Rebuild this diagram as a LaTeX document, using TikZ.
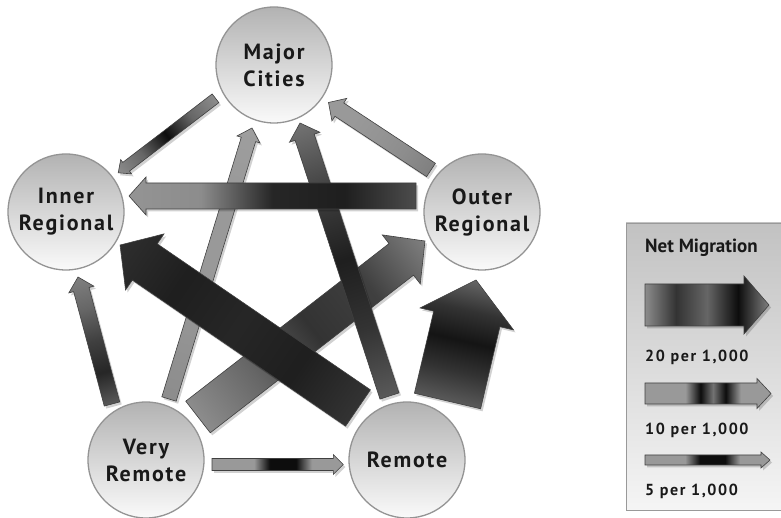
\documentclass[tikz,border=0pt]{standalone}
\usepackage{fontspec}
\setmainfont{PT Sans}
\newfontfamily\placefont[LetterSpace=8]{PT Sans}
\newfontfamily\keyfont[LetterSpace=10]{PT Sans}
\usetikzlibrary{calc}

\colorlet{fa}{gray}\colorlet{fb}{gray}\colorlet{fc}{gray}\colorlet{fd}{gray}\colorlet{fe}{gray}
\pgfdeclarehorizontalshading[fa,fb,fc,fd,fe]{fatshade}{100bp}{color(0bp)=(fa); color(25bp)=(fa); color(37.5bp)=(fb); color(50bp)=(fc); color(62.5bp)=(fd); color(75bp)=(fe); color(100bp)=(fe)}
\pgfdeclarehorizontalshading[fa,fb,fc]{bandshade}{100bp}{color(0bp)=(fa); color(25bp)=(fa); color(41bp)=(fa); color(47bp)=(fb); color(52bp)=(fc); color(57bp)=(fb); color(63bp)=(fa); color(75bp)=(fa); color(100bp)=(fa)}

\newcommand\fatcolors[5]{\colorlet{fa}{#1}\colorlet{fb}{#2}\colorlet{fc}{#3}\colorlet{fd}{#4}\colorlet{fe}{#5}}

% fat arrow #1 -> #2, body #3, head width #4, head length #5, shading #6
\newcommand\fatarrow[6]{%
  \path let \p1=($(#2)-(#1)$) in \pgfextra{%
    \pgfmathsetmacro\fatlen{veclen(\x1,\y1)}%
    \pgfmathsetmacro\fatang{atan2(\y1,\x1)}%
    \xdef\fatlen{\fatlen}\xdef\fatang{\fatang}};
  \begin{scope}[transform canvas={shift={($(#1)+(2,-2.5)$)},rotate=\fatang}]
    \fill[fatshadow] (0,{-#3/2}) -- ({\fatlen-#5},{-#3/2}) -- ({\fatlen-#5},{-#4/2})
      -- (\fatlen,0) -- ({\fatlen-#5},{#4/2}) -- ({\fatlen-#5},{#3/2}) -- (0,{#3/2}) -- cycle;
  \end{scope}
  \begin{scope}[transform canvas={shift={(#1)},rotate=\fatang}]
    \shade[fatline, shading=#6] (0,{-#3/2}) -- ({\fatlen-#5},{-#3/2}) -- ({\fatlen-#5},{-#4/2})
      -- (\fatlen,0) -- ({\fatlen-#5},{#4/2}) -- ({\fatlen-#5},{#3/2}) -- (0,{#3/2}) -- cycle;
  \end{scope}}

\tikzset{
  place/.style={circle, minimum size=116pt, inner sep=0pt, align=center, draw=black!42, line width=1.3pt,
    top color=black!30, bottom color=black!2, text=black!90,
    font=\placefont\bfseries\fontsize{22}{27}\selectfont},
  fatline/.style={draw=black!75, line width=0.6pt, line join=miter},
  fatshadow/.style={black, opacity=0.18},
  keybox/.style={draw=black!40, line width=0.8pt, top color=black!24, bottom color=black!4},
  keytext/.style={anchor=base west, inner sep=0pt, text=black!90, font=\keyfont\bfseries\fontsize{16}{19}\selectfont}
}

\begin{document}
\begin{tikzpicture}[x=1pt, y=1pt]
\useasboundingbox (0,0) rectangle (781,518);

% ends of the flows
\coordinate (mc-ir-s) at (215.5,419.7);  \coordinate (mc-ir-e) at (118,345);
\coordinate (or-mc-s) at (431,348);      \coordinate (or-mc-e) at (328.5,415.5);
\coordinate (or-ir-s) at (416,322);      \coordinate (or-ir-e) at (129,322);
\coordinate (vr-mc-s) at (169,119);      \coordinate (vr-mc-e) at (252,390);
\coordinate (rm-mc-s) at (389.5,122);    \coordinate (rm-mc-e) at (300,395);
\coordinate (rm-ir-s) at (358,110);      \coordinate (rm-ir-e) at (120,273);
\coordinate (vr-or-s) at (198,101);      \coordinate (vr-or-e) at (425,277);
\coordinate (vr-ir-s) at (112,114);      \coordinate (vr-ir-e) at (78,241);
\coordinate (vr-rm-s) at (212,53.5);     \coordinate (vr-rm-e) at (343.3,53.5);
\coordinate (rm-or-s) at (447.5,117);    \coordinate (rm-or-e) at (476,238);

\fatcolors{black!45}{black!42}{black!40}{black!40}{black!38}
\fatarrow{vr-mc-s}{vr-mc-e}{15}{24}{12}{fatshade}
\fatcolors{black!45}{black!60}{black!80}{black!75}{black!50}
\fatarrow{vr-or-s}{vr-or-e}{40}{62}{30}{fatshade}
\fatcolors{black!80}{black!88}{black!85}{black!88}{black!82}
\fatarrow{rm-ir-s}{rm-ir-e}{44}{68}{30}{fatshade}
\fatcolors{black!65}{black!80}{black!88}{black!75}{black!55}
\fatarrow{rm-mc-s}{rm-mc-e}{20}{32}{15}{fatshade}
\fatcolors{black!70}{black!88}{black!85}{black!45}{black!42}
\fatarrow{or-ir-s}{or-ir-e}{26}{38}{17}{fatshade}
\fatcolors{black!45}{black!60}{black!95}{black!60}{black!45}
\fatarrow{mc-ir-s}{mc-ir-e}{11}{18}{10}{fatshade}
\fatcolors{black!50}{black!45}{black!42}{black!40}{black!40}
\fatarrow{or-mc-s}{or-mc-e}{16}{27}{13}{fatshade}
\fatcolors{black!65}{black!85}{black!75}{black!60}{black!50}
\fatarrow{vr-ir-s}{vr-ir-e}{16}{26}{13}{fatshade}
\fatcolors{black!40}{black!95}{black!95}{black!40}{black!40}
\fatarrow{vr-rm-s}{vr-rm-e}{12}{20}{10}{bandshade}
\fatcolors{black!65}{black!80}{black!92}{black!80}{black!60}
\fatarrow{rm-or-s}{rm-or-e}{68}{96}{40}{fatshade}

% regions
\node[place] (MC) at (274,453) {Major\\Cities};
\node[place] (IR) at (66,306)  {Inner\\Regional};
\node[place] (OR) at (482,306) {Outer\\Regional};
\node[place] (VR) at (146,58)  {Very\\Remote};
\node[place] (RM) at (407,58)  {Remote};

% key
\draw[keybox] (626,8) rectangle (800,295);
\node[anchor=base west, inner sep=0pt, text=black!90, font=\bfseries\fontsize{19}{22}\selectfont] (title) at (645,265.7) {Net Migration};
\coordinate (k20-s) at (645,213);  \coordinate (k20-e) at (769,213);
\coordinate (k10-s) at (645,124.5); \coordinate (k10-e) at (771,124.5);
\coordinate (k5-s) at (645,58);    \coordinate (k5-e) at (770,58);
\fatcolors{black!45}{black!80}{black!60}{black!95}{black!50}
\fatarrow{k20-s}{k20-e}{42}{58}{25}{fatshade}
\fatcolors{black!40}{black!95}{black!55}{black!40}{black!40}
\fatarrow{k10-s}{k10-e}{21}{30}{14}{bandshade}
\fatcolors{black!40}{black!95}{black!95}{black!40}{black!40}
\fatarrow{k5-s}{k5-e}{10}{16}{9}{bandshade}
\node[keytext] (k20) at (645,156.3) {20 per 1,000};
\node[keytext] (k10) at (645,83) {10 per 1,000};
\node[keytext] (k5) at (645,22) {5 per 1,000};

\end{tikzpicture}
\end{document}
